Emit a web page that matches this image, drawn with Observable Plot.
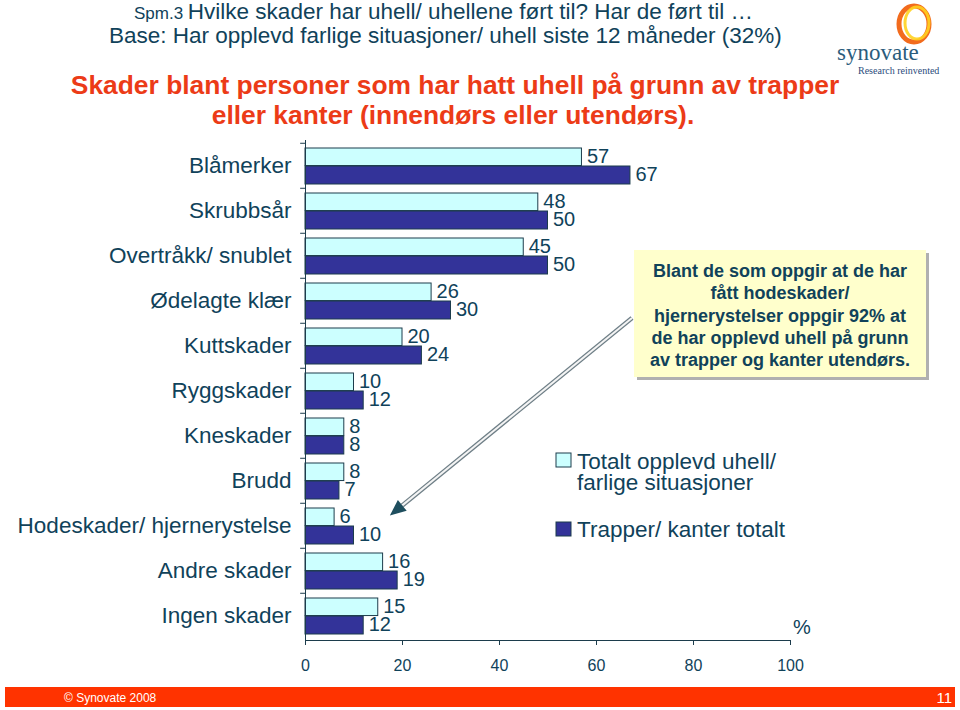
<!DOCTYPE html>
<html><head><meta charset="utf-8">
<script src="https://cdn.jsdelivr.net/npm/d3@7"></script>
<script src="https://cdn.jsdelivr.net/npm/@observablehq/plot@0.6"></script>
<style>
html,body{margin:0;padding:0;background:#fff;}
#wrap{position:relative;width:960px;height:710px;overflow:hidden;font-family:"Liberation Sans",Arial,sans-serif;}
#chart{position:absolute;left:0;top:0;}
#overlay{position:absolute;left:0;top:0;}
</style></head>
<body><div id="wrap"><div id="chart"></div><svg id="overlay" width="960" height="710"></svg></div>
<script>
const categories = ["Blåmerker","Skrubbsår","Overtråkk/ snublet","Ødelagte klær","Kuttskader","Ryggskader","Kneskader","Brudd","Hodeskader/ hjernerystelse","Andre skader","Ingen skader"];
const totalt  = [57, 48, 45, 26, 20, 10, 8, 8, 6, 16, 15];
const trapper = [67, 50, 50, 30, 24, 12, 8, 7, 10, 19, 12];
const xTicks = [0, 20, 40, 60, 80, 100];
const seriesNames = ["Totalt opplevd uhell/", "farlige situasjoner", "Trapper/ kanter totalt"];
const titleLines = ["Hvilke skader har uhell/ uhellene ført til? Har de ført til …", "Base: Har opplevd farlige situasjoner/ uhell siste 12 måneder (32%)"];
const headLines = ["Skader blant personer som har hatt uhell på grunn av trapper", "eller kanter (innendørs eller utendørs)."];
const noteLines = ["Blant de som oppgir at de har", "fått hodeskader/", "hjernerystelser oppgir 92% at", "de har opplevd uhell på grunn", "av trapper og kanter utendørs."];

const TEXT = "#10425A", NAVY = "#333399", CYAN = "#CCFFFF", AXIS = "#1C3C4C", ORANGE = "#EC3B17";
const rowsT = categories.map((c, i) => ({cat: c, value: totalt[i]}));
const rowsK = categories.map((c, i) => ({cat: c, value: trapper[i]}));
const H = 700, MT = 140, MB = 60;
const bw = (H - MT - MB) / categories.length;

const plot = Plot.plot({
  width: 960, height: H,
  marginLeft: 305, marginRight: 170, marginTop: MT, marginBottom: MB,
  style: {fontFamily: "'Liberation Sans', Arial, sans-serif", color: TEXT, background: "transparent", overflow: "visible"},
  x: {domain: [0, 100]},
  y: {domain: categories, padding: 0},
  marks: [
    Plot.barX(rowsT, {x: "value", y: "cat", fill: CYAN, stroke: AXIS, strokeWidth: 1, insetTop: 5, insetBottom: bw - 23}),
    Plot.barX(rowsK, {x: "value", y: "cat", fill: NAVY, stroke: AXIS, strokeWidth: 1, insetTop: 23, insetBottom: 4}),
    Plot.text(rowsT, {x: "value", y: "cat", text: d => String(d.value), dx: 5, dy: -9, textAnchor: "start", fontSize: 20, fill: TEXT}),
    Plot.text(rowsK, {x: "value", y: "cat", text: d => String(d.value), dx: 5, dy: 9, textAnchor: "start", fontSize: 20, fill: TEXT}),
    Plot.ruleY(categories, {y: d => d, x1: -1, x2: 0, dy: -bw / 2, stroke: AXIS}),
    Plot.ruleX([0], {stroke: AXIS}),
    Plot.frame({anchor: "bottom", stroke: AXIS}),
    Plot.axisY({tickSize: 0, tickPadding: 14, fontSize: 22.5, label: null}),
    Plot.axisX({ticks: xTicks, tickSize: 5, tickPadding: 14, fontSize: 16, label: null, stroke: AXIS})
  ]
});
document.getElementById("chart").append(plot);

const xs = plot.scale("x"), ys = plot.scale("y");
const svg = d3.select("#overlay");
const F = "'Liberation Sans', Arial, sans-serif";

// titles
const t1 = svg.append("text").attr("x", 134).attr("y", 19).attr("fill", TEXT).attr("font-family", F).attr("font-size", 22.5);
t1.append("tspan").attr("font-size", 17).text("Spm.3 ");
t1.append("tspan").text(titleLines[0]);
svg.append("text").attr("x", 109).attr("y", 43).attr("fill", TEXT).attr("font-family", F).attr("font-size", 22.5).text(titleLines[1]);
svg.append("text").attr("x", 455).attr("y", 94).attr("text-anchor", "middle").attr("fill", ORANGE).attr("font-family", F).attr("font-weight", "bold").attr("font-size", 26.4).text(headLines[0]);
svg.append("text").attr("x", 453).attr("y", 124).attr("text-anchor", "middle").attr("fill", ORANGE).attr("font-family", F).attr("font-weight", "bold").attr("font-size", 26.4).text(headLines[1]);

// logo
const logo = svg.append("g");
logo.append("ellipse").attr("cx", 914).attr("cy", 24).attr("rx", 15).attr("ry", 18).attr("fill", "none").attr("stroke", "#F26B1D").attr("stroke-width", 5);
logo.append("ellipse").attr("cx", 917).attr("cy", 23).attr("rx", 12).attr("ry", 16).attr("fill", "none").attr("stroke", "#FFD21F").attr("stroke-width", 3).attr("opacity", 0.9);
logo.append("text").attr("x", 837).attr("y", 60).attr("font-family", "'Liberation Serif', serif").attr("font-size", 23).attr("fill", "#2B5C7C").text("synovate");
logo.append("text").attr("x", 858).attr("y", 74).attr("font-family", "'Liberation Serif', serif").attr("font-size", 10).attr("fill", "#2B4C7C").text("Research reinvented");

// note box
const bx = 634, by = 250, bwid = 292, bh = 127;
svg.append("rect").attr("x", bx + 3).attr("y", by + 3).attr("width", bwid).attr("height", bh).attr("fill", "#B0B0B0");
svg.append("rect").attr("x", bx).attr("y", by).attr("width", bwid).attr("height", bh).attr("fill", "#FFFFCC");
noteLines.forEach((s, i) => {
  svg.append("text").attr("x", bx + bwid / 2).attr("y", 277 + i * 22.25).attr("text-anchor", "middle")
    .attr("font-family", F).attr("font-weight", "bold").attr("font-size", 18).attr("fill", TEXT).text(s);
});

// arrow from note box to the Hodeskader bars
const tip = [xs.apply(17.5), ys.apply(categories[8]) + 12.5];
const start = [bx - 2, 318];
const ang = Math.atan2(tip[1] - start[1], tip[0] - start[0]);
const hl = 16, hw = 7;
const base = [tip[0] - hl * Math.cos(ang), tip[1] - hl * Math.sin(ang)];
svg.append("line").attr("x1", start[0]).attr("y1", start[1]).attr("x2", base[0]).attr("y2", base[1]).attr("stroke", "#6E7E86").attr("stroke-width", 4.5);
svg.append("line").attr("x1", start[0]).attr("y1", start[1]).attr("x2", base[0]).attr("y2", base[1]).attr("stroke", "#F4F4F4").attr("stroke-width", 2);
const px = -Math.sin(ang), py = Math.cos(ang);
svg.append("path").attr("d", `M${tip[0]},${tip[1]} L${base[0] + px * hw},${base[1] + py * hw} L${base[0] - px * hw},${base[1] - py * hw} Z`).attr("fill", "#1E4E5E");

// legend
svg.append("rect").attr("x", 556).attr("y", 453).attr("width", 15).attr("height", 14).attr("fill", CYAN).attr("stroke", AXIS);
svg.append("rect").attr("x", 556).attr("y", 522).attr("width", 15).attr("height", 14).attr("fill", NAVY).attr("stroke", AXIS);
[[seriesNames[0], 469], [seriesNames[1], 490], [seriesNames[2], 537]].forEach(([s, y]) => {
  svg.append("text").attr("x", 577).attr("y", y).attr("font-family", F).attr("font-size", 22.5).attr("fill", TEXT).text(s);
});
svg.append("text").attr("x", 793).attr("y", 634).attr("font-family", F).attr("font-size", 20).attr("fill", TEXT).text("%");

// footer
svg.append("rect").attr("x", 5).attr("y", 687).attr("width", 950).attr("height", 20).attr("fill", "#FF3300");
svg.append("text").attr("x", 64).attr("y", 702).attr("font-family", F).attr("font-size", 12).attr("fill", "#fff").text("© Synovate 2008");
svg.append("text").attr("x", 952).attr("y", 703).attr("text-anchor", "end").attr("font-family", F).attr("font-size", 15).attr("fill", "#fff").text("11");
</script>
</body></html>
